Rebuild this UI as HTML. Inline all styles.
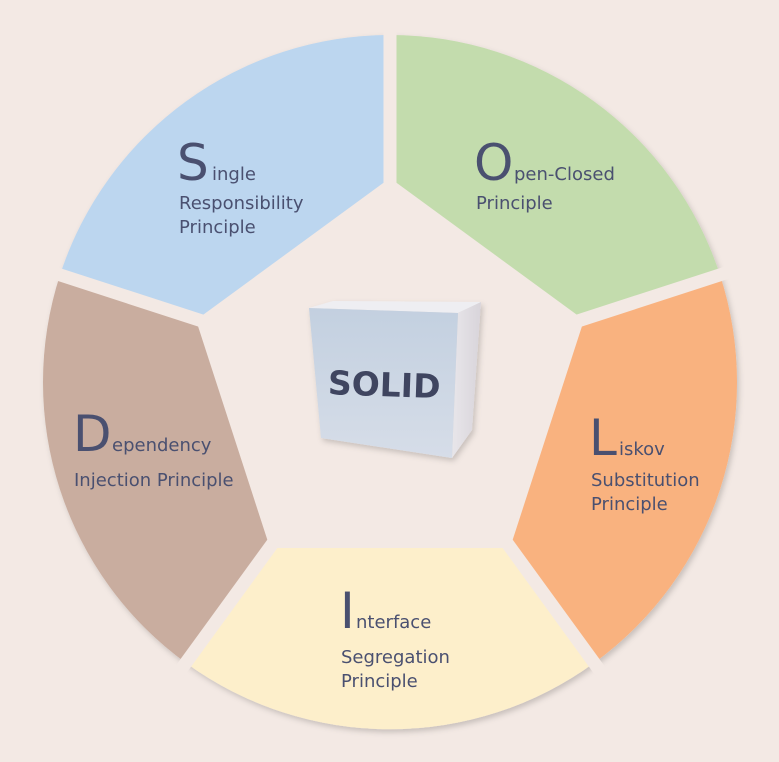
<!DOCTYPE html>
<html><head><style>
html,body{margin:0;padding:0;background:#f3e9e4;}
svg{display:block}
text{font-family:"DejaVu Sans","Liberation Sans",sans-serif;fill:#4a5070;}
.b{font-size:50px}
.s{font-size:18px}
</style></head><body>
<svg width="779" height="762" viewBox="0 0 779 762">
<defs>
<filter id="sh" x="-10%" y="-10%" width="120%" height="120%"><feDropShadow dx="2" dy="3" stdDeviation="3" flood-color="#000" flood-opacity="0.18"/></filter>
<linearGradient id="fg" x1="0" y1="0" x2="0" y2="1"><stop offset="0" stop-color="#c3d0e0"/><stop offset="1" stop-color="#d6dde8"/></linearGradient>
<linearGradient id="rg" x1="0" y1="0" x2="1" y2="0"><stop offset="0" stop-color="#e8e6ea"/><stop offset="1" stop-color="#d8d4da"/></linearGradient>
</defs>
<rect width="779" height="762" fill="#f3e9e4"/>
<g filter="url(#sh)">
<path d="M390,382 L390,35 A347,347 0 0,1 720,275 Z" fill="#c3dcad"/>
<path d="M390,382 L720,275 A347,347 0 0,1 594,663 Z" fill="#f9b27f"/>
<path d="M390,382 L594,663 A347,347 0 0,1 186,663 Z" fill="#fdefcb"/>
<path d="M390,382 L186,663 A347,347 0 0,1 60,275 Z" fill="#c9ad9f"/>
<path d="M390,382 L60,275 A347,347 0 0,1 390,35 Z" fill="#bcd6ef"/>
</g>
<g stroke="#f3e9e4" stroke-width="13">
<line x1="390" y1="382" x2="390" y2="20"/>
<line x1="390" y1="382" x2="735" y2="270"/>
<line x1="390" y1="382" x2="603" y2="675"/>
<line x1="390" y1="382" x2="177" y2="675"/>
<line x1="390" y1="382" x2="45" y2="270"/>
</g>
<polygon points="390,178 584,320 510,548 270,548 196,320" fill="#f3e9e4"/>
<g filter="url(#sh)">
<polygon points="309,308 333,301 481,302 458,313" fill="#eeeef2"/>
<polygon points="458,313 481,302 472,430 452,458" fill="url(#rg)"/>
<polygon points="309,308 458,313 452,458 321,438" fill="url(#fg)"/>
</g>
<text x="328" y="396" style="font-size:33px;font-weight:600;fill:#3f4560" transform="rotate(2 380 384)">SOLID</text>
<text x="177" y="180" class="b">S</text><text x="212" y="180" class="s">ingle</text>
<text x="179" y="209" class="s">Responsibility</text>
<text x="179" y="233" class="s">Principle</text>
<text x="474" y="180" class="b">O</text><text x="514" y="180" class="s">pen-Closed</text>
<text x="476" y="209" class="s">Principle</text>
<text x="589" y="455" class="b">L</text><text x="619" y="455" class="s">iskov</text>
<text x="591" y="486" class="s">Substitution</text>
<text x="591" y="510" class="s">Principle</text>
<text x="340" y="628" class="b">I</text><text x="356" y="628" class="s">nterface</text>
<text x="341" y="663" class="s">Segregation</text>
<text x="341" y="687" class="s">Principle</text>
<text x="73" y="451" class="b">D</text><text x="112" y="451" class="s">ependency</text>
<text x="74" y="486" class="s">Injection Principle</text>
</svg>
</body></html>
